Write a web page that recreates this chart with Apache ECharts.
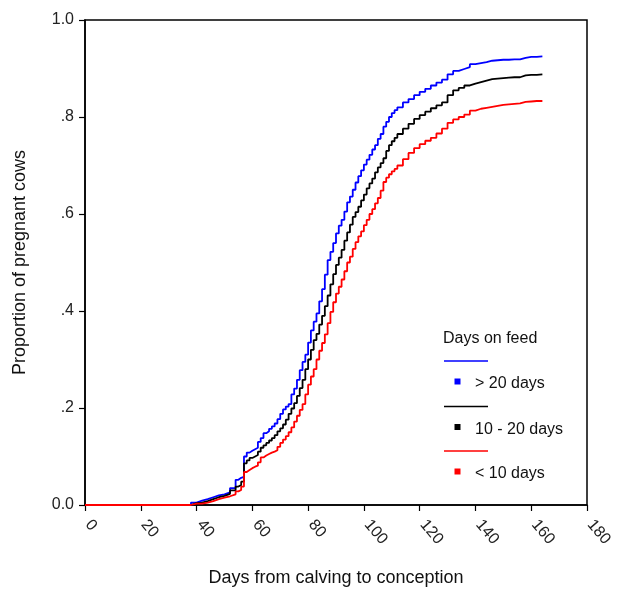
<!DOCTYPE html>
<html>
<head>
<meta charset="utf-8">
<script src="https://cdn.jsdelivr.net/npm/echarts@6/dist/echarts.min.js"></script>
<style>
html,body{margin:0;padding:0;background:#fff;}
#chart{width:619px;height:590px;}
</style>
</head>
<body>
<div id="chart"></div>
<script>
// Shared day grid (days from calving to conception)
var days = [0,36,38,40,42,44,46,48,50,52,54,
  55,56,57,58,59,60,61,62,63,64,
  65,66,67,68,69,70,71,72,73,74,
  75,76,77,78,79,80,81,82,83,84,
  85,86,87,88,89,90,91,92,93,94,
  95,96,97,98,99,100,101,102,103,104,
  105,106,107,108,109,110,111,112,
  114,116,118,120,122,124,126,128,130,
  132,134,136,138,140,142,144,146,148,150,152,154,156,158,160,162,164];

// Cumulative proportion pregnant, > 20 days on feed
var over20 = [0,0,0.005,0.009,0.012,0.016,0.02,0.022,0.026,0.035,0.052,
  0.056,0.058,0.1,0.108,0.112,0.115,0.118,0.13,0.138,0.148,
  0.152,0.157,0.162,0.168,0.177,0.188,0.197,0.203,0.208,0.228,
  0.24,0.258,0.278,0.295,0.31,0.335,0.36,0.378,0.395,0.42,
  0.445,0.475,0.505,0.522,0.54,0.56,0.576,0.588,0.605,0.624,
  0.636,0.65,0.665,0.678,0.69,0.702,0.712,0.722,0.733,0.742,
  0.755,0.765,0.78,0.79,0.8,0.808,0.814,0.82,
  0.83,0.837,0.845,0.852,0.858,0.865,0.871,0.877,0.888,
  0.895,0.899,0.903,0.909,0.911,0.913,0.916,0.917,0.918,0.918,0.919,0.919,0.922,0.924,0.924,0.925,0.926];

// 10 - 20 days on feed
var mid10to20 = [0,0,0.004,0.005,0.008,0.012,0.016,0.019,0.023,0.03,0.038,
  0.041,0.048,0.086,0.092,0.097,0.1,0.103,0.11,0.118,0.123,
  0.128,0.133,0.138,0.144,0.152,0.158,0.166,0.176,0.188,0.199,
  0.21,0.225,0.241,0.258,0.28,0.3,0.32,0.34,0.353,0.372,
  0.39,0.41,0.432,0.455,0.476,0.495,0.51,0.526,0.545,0.562,
  0.578,0.594,0.604,0.615,0.628,0.64,0.653,0.663,0.673,0.686,
  0.696,0.705,0.715,0.73,0.742,0.75,0.757,0.765,
  0.776,0.786,0.796,0.804,0.811,0.818,0.824,0.83,0.845,
  0.855,0.86,0.865,0.869,0.872,0.875,0.878,0.879,0.88,0.881,0.882,0.882,0.886,0.887,0.887,0.888,0.888];

// < 10 days on feed
var under10 = [0,0,0.003,0.003,0.005,0.008,0.012,0.015,0.018,0.022,0.028,
  0.031,0.038,0.068,0.072,0.076,0.079,0.081,0.088,0.098,0.102,
  0.105,0.108,0.11,0.113,0.12,0.128,0.135,0.142,0.15,0.16,
  0.172,0.184,0.196,0.208,0.228,0.248,0.265,0.28,0.3,0.318,
  0.334,0.352,0.375,0.398,0.418,0.436,0.45,0.465,0.482,0.5,
  0.512,0.528,0.542,0.554,0.564,0.577,0.588,0.6,0.61,0.622,
  0.633,0.648,0.666,0.675,0.682,0.688,0.693,0.7,
  0.713,0.726,0.736,0.744,0.751,0.757,0.766,0.776,0.788,
  0.795,0.8,0.805,0.813,0.817,0.819,0.821,0.823,0.825,0.826,0.827,0.828,0.831,0.832,0.833,0.833,0.834];

var seriesNames = ['> 20 days', '10 - 20 days', '< 10 days'];
var seriesColors = ['#0000ff', '#000000', '#ff0000'];
var yTickLabels = {'0':'0.0','0.2':'.2','0.4':'.4','0.6':'.6','0.8':'.8','1':'1.0'};
var legendTitle = 'Days on feed';

function pairs(vals){ return days.map(function(d,i){ return [d, vals[i]]; }); }
var allVals = [over20, mid10to20, under10];

var FONT = '"Liberation Sans", Arial, sans-serif';
var chart = echarts.init(document.getElementById('chart'), null, {renderer:'canvas'});

var series = allVals.map(function(v, i){
  return {
    name: seriesNames[i], type: 'line', step: 'end', data: pairs(v),
    showSymbol: false, symbol: 'none', animation: false,
    lineStyle: {color: seriesColors[i], width: 1.8},
    itemStyle: {color: seriesColors[i]}
  };
});

// legend graphics
var gfx = [{
  type:'text', left: 443, top: 331,
  style:{text: legendTitle, font: '16px ' + FONT, fill:'#111'}
}];
var lineYs = [361, 406.5, 451];
seriesNames.forEach(function(n, i){
  var ly = lineYs[i];
  gfx.push({type:'line', shape:{x1:444, y1:ly, x2:488, y2:ly}, style:{stroke: seriesColors[i], lineWidth:1.3}});
  gfx.push({type:'rect', shape:{x:454.5, y:ly+17.5, width:6, height:6}, style:{fill: seriesColors[i]}});
  gfx.push({type:'text', left:475, top: ly+15, style:{text: n, font: '16px ' + FONT, fill:'#111'}});
});

chart.setOption({
  backgroundColor:'#fff',
  animation:false,
  grid:{left:85, top:20, right:32, bottom:85, outerBoundsMode:'none', containLabel:false,
        show:true, borderColor:'#000', borderWidth:1.5, backgroundColor:'transparent'},
  xAxis:{
    type:'value', min:0, max:180, interval:20,
    name:'Days from calving to conception', nameLocation:'middle', nameGap:64,
    nameTextStyle:{fontFamily:FONT, fontSize:18, color:'#111'},
    axisLine:{show:true, onZero:false, lineStyle:{color:'#000', width:1.5}},
    axisTick:{show:true, length:6, lineStyle:{color:'#000', width:1.2}},
    axisLabel:{rotate:-50, fontFamily:FONT, fontSize:16, color:'#222', margin:13, padding:[0,0,0,5]},
    splitLine:{show:false}
  },
  yAxis:{
    type:'value', min:0, max:1, interval:0.2,
    name:'Proportion of pregnant cows', nameLocation:'middle', nameGap:56,
    nameTextStyle:{fontFamily:FONT, fontSize:18, color:'#111'},
    axisLine:{show:true, lineStyle:{color:'#000', width:1.5}},
    axisTick:{show:true, length:6, lineStyle:{color:'#000', width:1.2}},
    axisLabel:{fontFamily:FONT, fontSize:16, color:'#222', margin:11,
      formatter:function(v){ var k = String(Math.round(v*10)/10); return yTickLabels[k] !== undefined ? yTickLabels[k] : k; }},
    splitLine:{show:false}
  },
  graphic: gfx,
  series: series
});
</script>
</body>
</html>
